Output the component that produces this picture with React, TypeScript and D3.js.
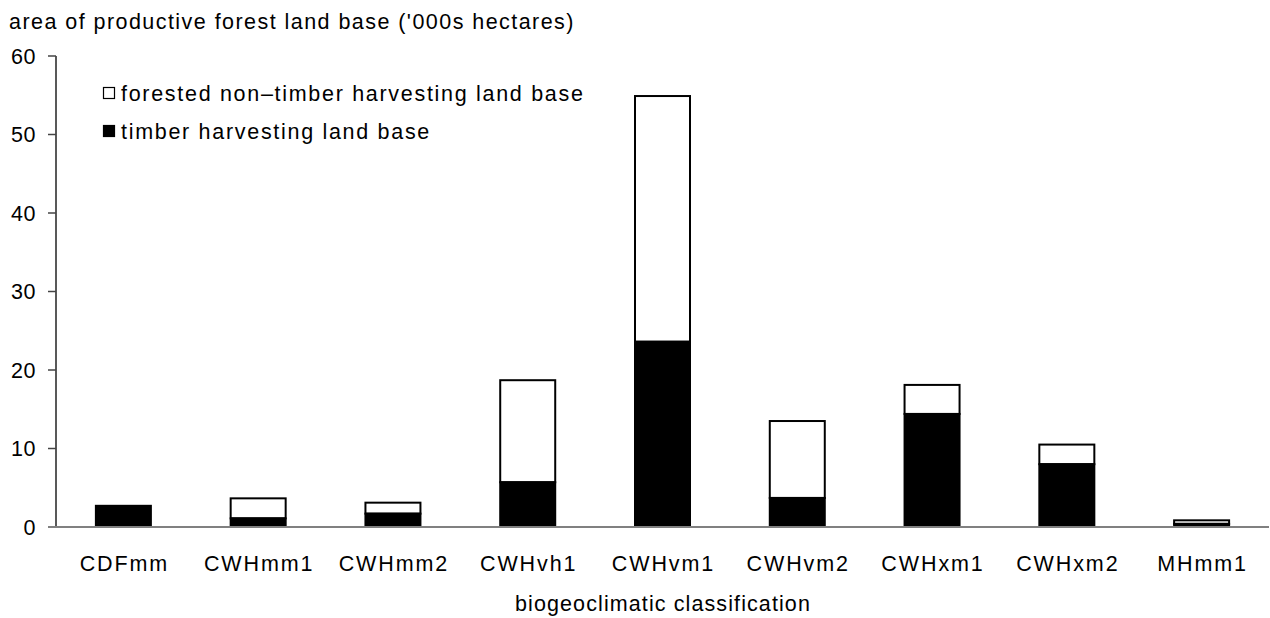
import React, { useEffect, useRef } from "react";
import * as d3 from "d3";

const categories = ["CDFmm", "CWHmm1", "CWHmm2", "CWHvh1", "CWHvm1", "CWHvm2", "CWHxm1", "CWHxm2", "MHmm1"];
const timberValues = [2.7, 1.1, 1.7, 5.7, 23.6, 3.7, 14.4, 8.0, 0.4];
const nonTimberValues = [0, 2.55, 1.4, 13.0, 31.3, 9.8, 3.7, 2.5, 0.45];
const yTicks = [0, 10, 20, 30, 40, 50, 60];
const seriesNames = ["forested non\u2013timber harvesting land base", "timber harvesting land base"];

const W = 1270;
const H = 618;
const FONT = "'Liberation Sans', Arial, sans-serif";

export default function App() {
  const ref = useRef<SVGSVGElement | null>(null);

  useEffect(() => {
    const svg = d3.select(ref.current);
    svg.selectAll("*").remove();

    const x = d3.scaleBand<string>().domain(categories).range([56, 1269]).padding(0);
    const y = d3.scaleLinear().domain([0, 60]).range([527, 56]);
    const barW = 55;

    const rows = categories.map((c, i) => ({
      c,
      timber: timberValues[i],
      nonTimber: nonTimberValues[i],
    }));

    // title
    svg.append("text")
      .attr("x", 9).attr("y", 29)
      .attr("font-family", FONT).attr("font-size", 21.5)
      .attr("letter-spacing", 1.45)
      .attr("fill", "#000")
      .text("area of productive forest land base ('000s hectares)");

    // y axis
    const g = svg.append("g");
    g.append("line")
      .attr("x1", 56).attr("x2", 56).attr("y1", y(60)).attr("y2", y(0))
      .attr("stroke", "#222").attr("stroke-width", 1.5);
    yTicks.forEach((t) => {
      g.append("line")
        .attr("x1", 48).attr("x2", 56).attr("y1", y(t)).attr("y2", y(t))
        .attr("stroke", "#444").attr("stroke-width", 1.5);
      g.append("text")
        .attr("x", 36).attr("y", y(t)).attr("dy", "0.36em")
        .attr("text-anchor", "end")
        .attr("font-family", FONT).attr("font-size", 21.5)
        .attr("letter-spacing", 0.5)
        .text(String(t));
    });

    // bars
    const bars = svg.append("g");
    rows.forEach((r) => {
      const cx = (x(r.c) as number) + x.bandwidth() / 2;
      const x0 = cx - barW / 2;
      if (r.nonTimber > 0) {
        bars.append("rect")
          .attr("x", x0).attr("width", barW)
          .attr("y", y(r.timber + r.nonTimber))
          .attr("height", y(r.timber) - y(r.timber + r.nonTimber))
          .attr("fill", "#fff").attr("stroke", "#000").attr("stroke-width", 2);
      }
      bars.append("rect")
        .attr("x", x0).attr("width", barW)
        .attr("y", y(r.timber))
        .attr("height", y(0) - y(r.timber))
        .attr("fill", "#000").attr("stroke", "#000").attr("stroke-width", 2);
    });

    // x axis
    svg.append("line")
      .attr("x1", 48).attr("x2", 1269).attr("y1", y(0)).attr("y2", y(0))
      .attr("stroke", "#808080").attr("stroke-width", 2);

    categories.forEach((c) => {
      svg.append("text")
        .attr("x", (x(c) as number) + x.bandwidth() / 2 + 1)
        .attr("y", 571)
        .attr("text-anchor", "middle")
        .attr("font-family", FONT).attr("font-size", 21.5)
        .attr("letter-spacing", 1.9)
        .text(c);
    });

    svg.append("text")
      .attr("x", 663).attr("y", 611)
      .attr("text-anchor", "middle")
      .attr("font-family", FONT).attr("font-size", 21.5)
      .attr("letter-spacing", 1.1)
      .text("biogeoclimatic classification");

    // legend
    const leg = svg.append("g");
    const legendRows = [
      { name: seriesNames[0], fill: "#fff", cy: 93 },
      { name: seriesNames[1], fill: "#000", cy: 131 },
    ];
    legendRows.forEach((l) => {
      leg.append("rect")
        .attr("x", 103.5).attr("y", l.cy - 5.5).attr("width", 11).attr("height", 11)
        .attr("fill", l.fill).attr("stroke", "#000").attr("stroke-width", 1.2);
      leg.append("text")
        .attr("x", 121).attr("y", l.cy).attr("dy", "0.36em")
        .attr("font-family", FONT).attr("font-size", 21.5)
        .attr("letter-spacing", 1.7)
        .text(l.name);
    });
  }, []);

  return (
    <div style={{ position: "absolute", left: 0, top: 0 }}>
      <svg ref={ref} width={W} height={H} style={{ display: "block", background: "#fff" }} />
    </div>
  );
}
